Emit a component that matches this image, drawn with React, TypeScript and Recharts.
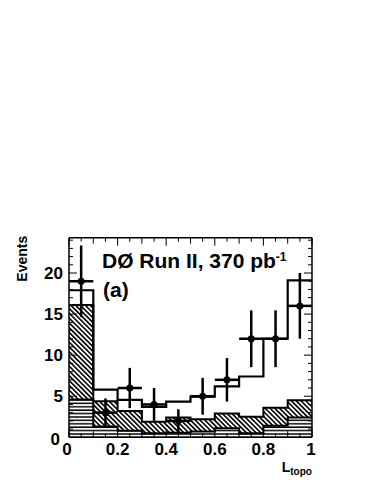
import * as React from "react";
import {
  ComposedChart,
  Area,
  Line,
  Scatter,
  ErrorBar,
  XAxis,
  YAxis,
} from "recharts";

// histogram bins (L_topo), 10 bins of width 0.1
const binEdges = [0, 0.1, 0.2, 0.3, 0.4, 0.5, 0.6, 0.7, 0.8, 0.9, 1.0];
const totalExpected = [17.9, 5.8, 4.55, 3.7, 4.35, 4.95, 6.2, 7.4, 12.0, 19.1];
const hatchedTop = [16.1, 4.4, 3.2, 1.9, 2.4, 2.2, 2.9, 2.5, 3.6, 4.5];
const linedBkg = [4.6, 1.3, 0.8, 0.5, 0.55, 0.7, 1.1, 0.5, 1.4, 2.4];

// data points
const dataCenters = [0.05, 0.15, 0.25, 0.35, 0.45, 0.55, 0.65, 0.75, 0.85, 0.95];
const dataCounts = [19, 3, 6, 4, 2, 5, 7, 12, 12, 16];
const dataErrors = [4.36, 1.73, 2.45, 2, 1.41, 2.24, 2.65, 3.46, 3.46, 4];
const halfBin = 0.05;

// axis ticks
const yTicks = [0, 1, 2, 3, 4, 5, 6, 7, 8, 9, 10, 11, 12, 13, 14, 15, 16, 17, 18, 19, 20, 21, 22, 23, 24];
const yLabels = [0, 5, 10, 15, 20];
const xTicks = [0, 0.05, 0.1, 0.15, 0.2, 0.25, 0.3, 0.35, 0.4, 0.45, 0.5, 0.55, 0.6, 0.65, 0.7, 0.75, 0.8, 0.85, 0.9, 0.95, 1];
const xLabels = [0, 0.2, 0.4, 0.6, 0.8, 1];

const histData = binEdges.map((x, i) => {
  const b = Math.min(i, totalExpected.length - 1);
  return {
    x,
    lined: linedBkg[b],
    hatched: hatchedTop[b] - linedBkg[b],
    total: totalExpected[b],
  };
});

const points = dataCenters.map((x, i) => ({
  x,
  y: dataCounts[i],
  yerr: dataErrors[i],
  xerr: halfBin,
}));

const FONT = "'Liberation Sans', Arial, Helvetica, sans-serif";

const isIn = (arr: number[], v: number) => arr.some((a) => Math.abs(a - v) < 1e-6);

function LeftTick(props: any) {
  const { x, y, payload } = props;
  const v = payload.value;
  const major = isIn(yLabels, v);
  return (
    <g>
      <line x1={x} y1={y} x2={x + (major ? 8 : 4)} y2={y} stroke="#000" strokeWidth={1} />
      {major && (
        <text
          x={v === 0 ? x - 9 : x - 6}
          y={v === 0 ? y + 2 : y}
          textAnchor="end"
          dominantBaseline="central"
          fontFamily={FONT}
          fontWeight="bold"
          fontSize={17}
          fill="#000"
        >
          {String(v)}
        </text>
      )}
    </g>
  );
}

function RightTick(props: any) {
  const { x, y, payload } = props;
  const major = isIn(yLabels, payload.value);
  return <line x1={x} y1={y} x2={x - (major ? 8 : 4)} y2={y} stroke="#000" strokeWidth={1} />;
}

function BottomTick(props: any) {
  const { x, y, payload } = props;
  const v = payload.value;
  const major = isIn(xLabels, v);
  const len = major ? 8 : Math.abs(v * 10 - Math.round(v * 10)) < 1e-6 ? 6 : 4;
  return (
    <g>
      <line x1={x} y1={y} x2={x} y2={y - len} stroke="#000" strokeWidth={1} />
      {major && (
        <text
          x={v === 0 ? x - 2 : v === 1 ? x - 1 : x}
          y={y + 18}
          textAnchor="middle"
          fontFamily={FONT}
          fontWeight="bold"
          fontSize={17}
          fill="#000"
        >
          {String(v)}
        </text>
      )}
    </g>
  );
}

function TopTick(props: any) {
  const { x, y, payload } = props;
  const v = payload.value;
  const major = isIn(xLabels, v);
  const len = major ? 8 : Math.abs(v * 10 - Math.round(v * 10)) < 1e-6 ? 6 : 4;
  return <line x1={x} y1={y} x2={x} y2={y + len} stroke="#000" strokeWidth={1} />;
}

const dot = (props: any) => <circle cx={props.cx} cy={props.cy} r={3.5} fill="#000" />;

export default function App() {
  return (
    <div style={{ position: "relative", width: 366, height: 476 }}>
      <ComposedChart
        width={366}
        height={476}
        data={histData}
        margin={{ top: 219.7, right: 52, bottom: 16.7, left: 0 }}
      >
        <defs>
          <pattern id="diag" patternUnits="userSpaceOnUse" width={3.4} height={3.4} patternTransform="rotate(-45)">
            <line x1={0.8} y1={0} x2={0.8} y2={3.4} stroke="#000" strokeWidth={1.6} />
          </pattern>
          <pattern id="hlines" patternUnits="userSpaceOnUse" width={4} height={3.4}>
            <line x1={0} y1={1} x2={4} y2={1} stroke="#000" strokeWidth={1.5} />
          </pattern>
        </defs>
        <XAxis
          xAxisId="bottom"
          type="number"
          dataKey="x"
          domain={[0, 1]}
          ticks={xTicks}
          interval={0}
          height={30}
          tickSize={0}
          tickMargin={0}
          tickLine={false}
          tick={BottomTick}
          axisLine={{ stroke: "#000", strokeWidth: 1.5 }}
          allowDataOverflow
        />
        <XAxis
          xAxisId="top"
          orientation="top"
          type="number"
          dataKey="x"
          domain={[0, 1]}
          ticks={xTicks}
          interval={0}
          height={10}
          tickSize={0}
          tickMargin={0}
          tickLine={false}
          tick={TopTick}
          axisLine={{ stroke: "#000", strokeWidth: 1.5 }}
          allowDataOverflow
        />
        <YAxis
          yAxisId="left"
          type="number"
          domain={[0, 24.3]}
          ticks={yTicks}
          interval={0}
          width={61}
          tickSize={0}
          tickMargin={0}
          tickLine={false}
          tick={LeftTick}
          axisLine={{ stroke: "#000", strokeWidth: 1.5 }}
          allowDataOverflow
        />
        <YAxis
          yAxisId="right"
          orientation="right"
          type="number"
          domain={[0, 24.3]}
          ticks={yTicks}
          interval={0}
          width={10}
          tickSize={0}
          tickMargin={0}
          tickLine={false}
          tick={RightTick}
          axisLine={{ stroke: "#000", strokeWidth: 1.5 }}
          allowDataOverflow
        />
        <Area
          xAxisId="bottom"
          yAxisId="left"
          type="stepAfter"
          dataKey="lined"
          stackId="bkg"
          fill="url(#hlines)"
          fillOpacity={1}
          stroke="#000"
          strokeWidth={2}
          isAnimationActive={false}
        />
        <Area
          xAxisId="bottom"
          yAxisId="left"
          type="stepAfter"
          dataKey="hatched"
          stackId="bkg"
          fill="url(#diag)"
          fillOpacity={1}
          stroke="#000"
          strokeWidth={2}
          isAnimationActive={false}
        />
        <Line
          xAxisId="bottom"
          yAxisId="left"
          type="stepAfter"
          dataKey="total"
          stroke="#000"
          strokeWidth={2.2}
          dot={false}
          isAnimationActive={false}
        />
        <Scatter
          xAxisId="bottom"
          yAxisId="left"
          data={points}
          dataKey="y"
          shape={dot}
          isAnimationActive={false}
        >
          <ErrorBar dataKey="yerr" direction="y" width={0} stroke="#000" strokeWidth={2.5} />
          <ErrorBar dataKey="xerr" direction="x" width={0} stroke="#000" strokeWidth={2.5} />
        </Scatter>
      </ComposedChart>
      <svg
        width={366}
        height={476}
        style={{ position: "absolute", left: 0, top: 0, pointerEvents: "none" }}
      >
        <text x={94} y={260.3} fontFamily={FONT} fontWeight="bold" fontSize={21} fill="#000">
          DØ Run II, 370 pb
          <tspan fontSize={12} dy={-7}>-1</tspan>
        </text>
        <text x={95} y={288.7} fontFamily={FONT} fontWeight="bold" fontSize={21} fill="#000">
          (a)
        </text>
        <text
          x={18.7}
          y={273.7}
          transform="rotate(-90, 18.7, 273.7)"
          fontFamily={FONT}
          fontWeight="bold"
          fontSize={14}
          fill="#000"
        >
          Events
        </text>
        <text x={273.7} y={463.7} fontFamily={FONT} fontWeight="bold" fontSize={14} fill="#000">
          L
          <tspan fontSize={10} dy={3.5}>topo</tspan>
        </text>
      </svg>
    </div>
  );
}
